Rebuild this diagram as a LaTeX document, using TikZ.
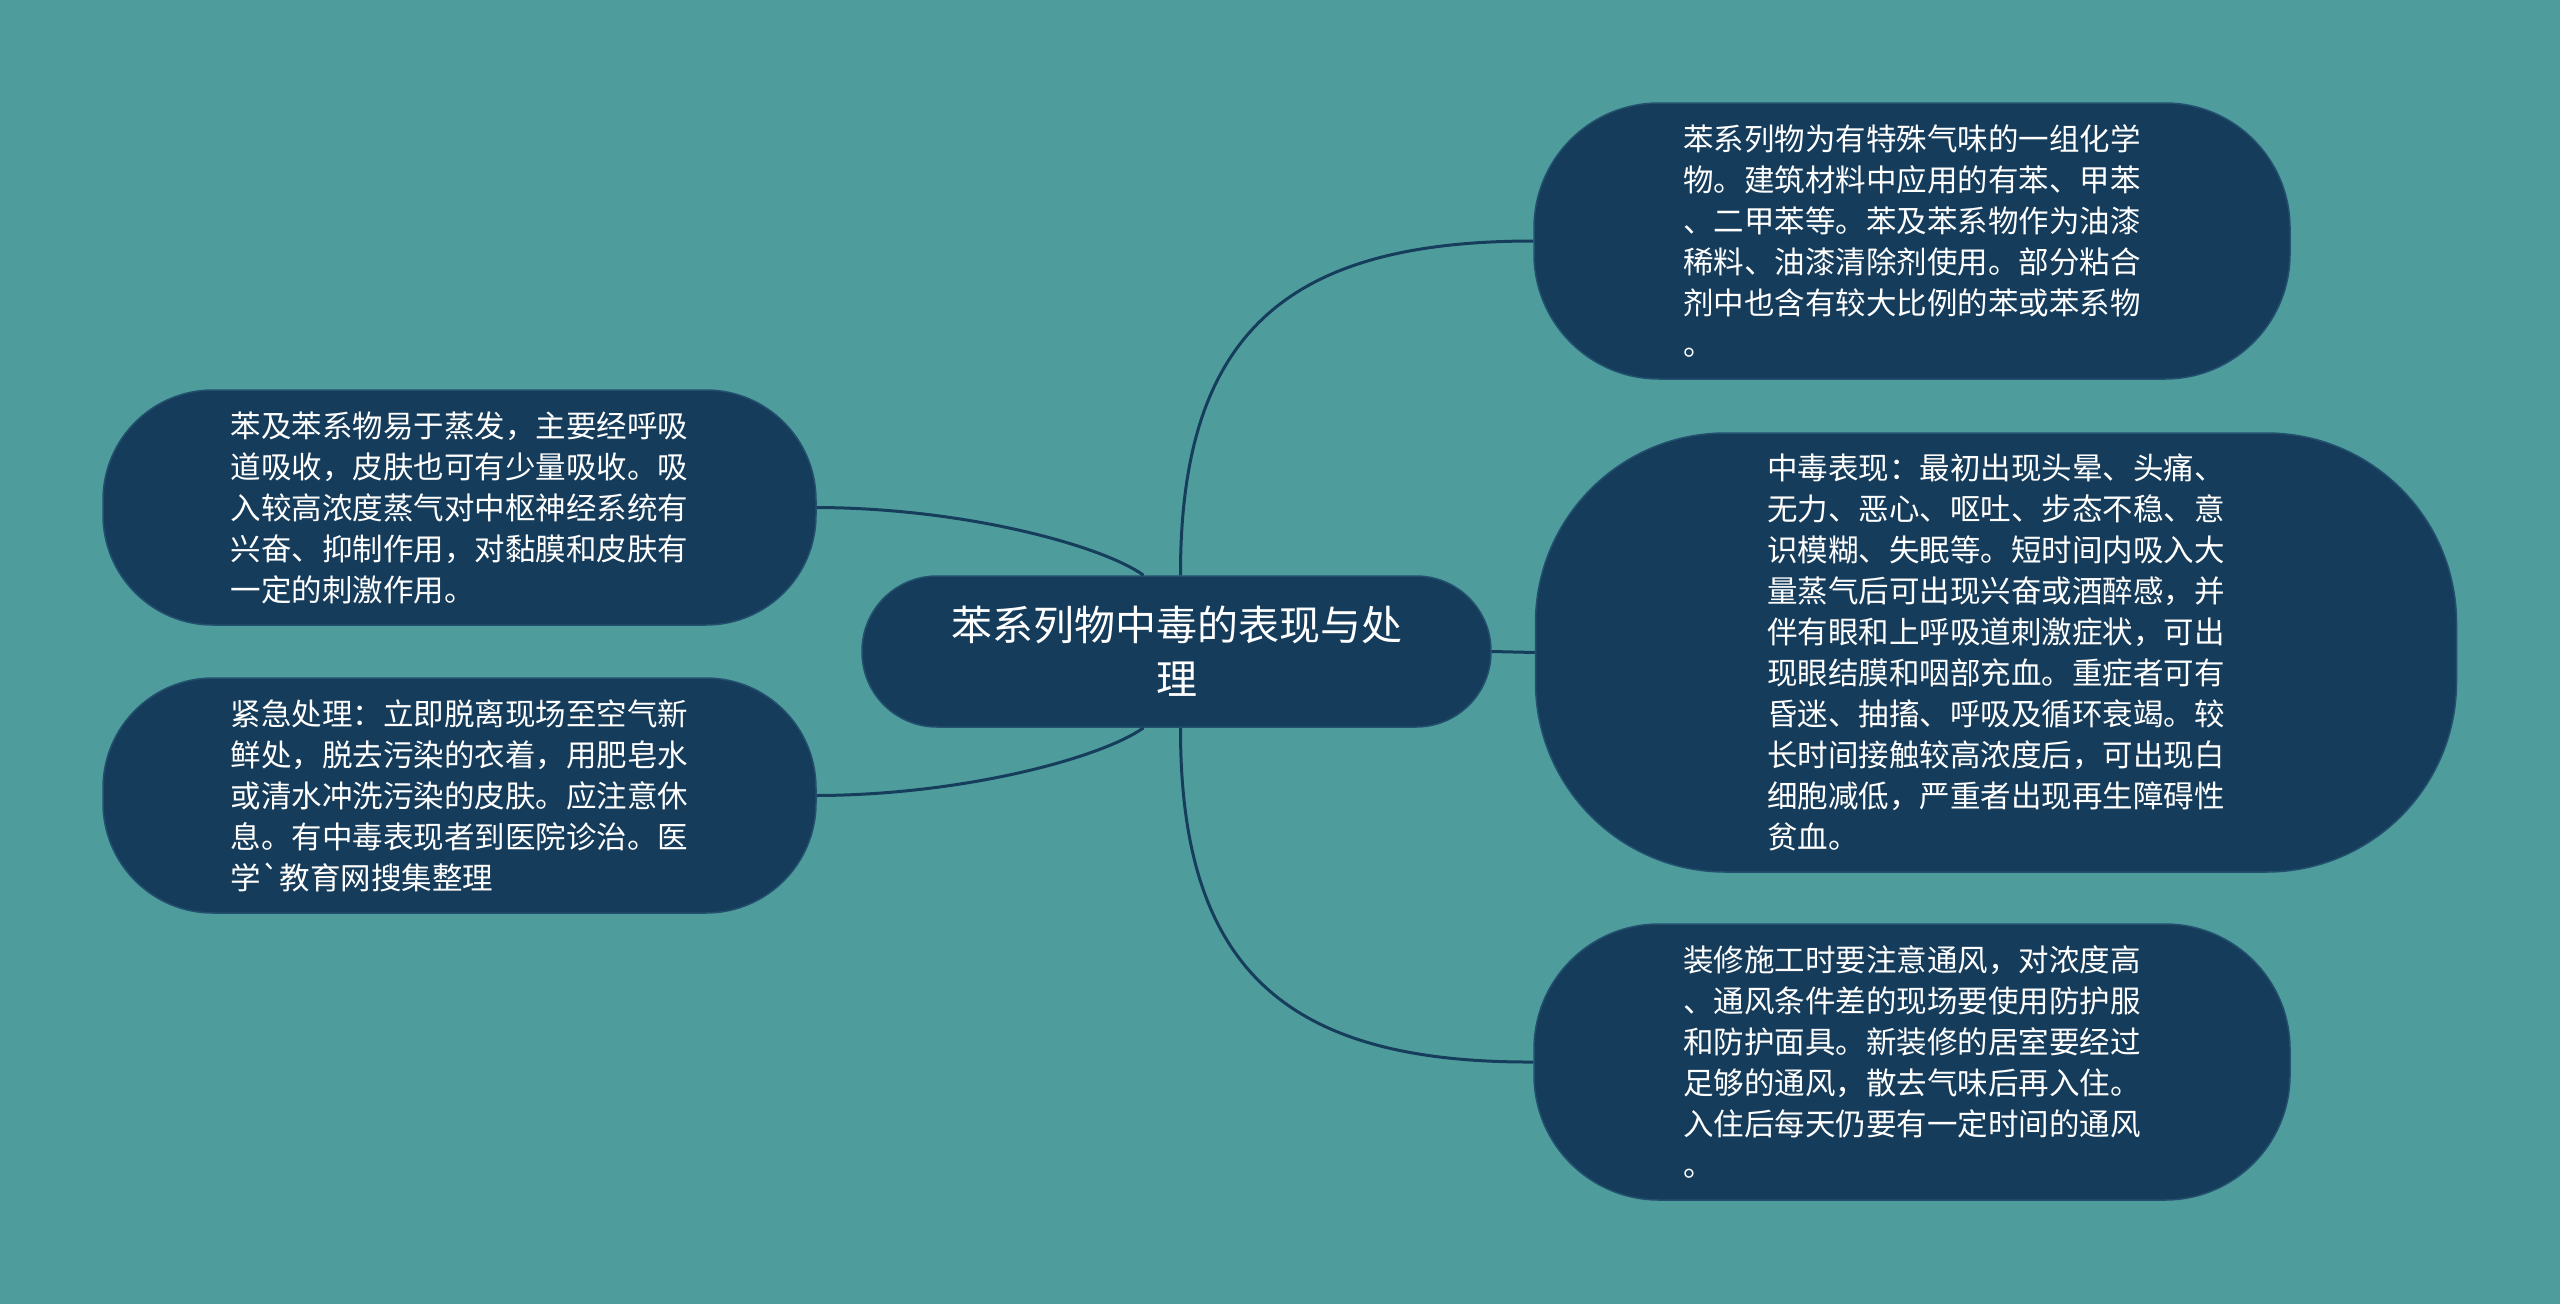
\documentclass[tikz,border=0pt]{standalone}
\usepackage{fontspec}
\newfontfamily\cjk{Noto Sans CJK SC}[Ligatures=TeXOff]
\usetikzlibrary{calc}
\definecolor{bg}{HTML}{4E9C9C}
\definecolor{nodefill}{HTML}{163C5B}
\definecolor{nodeline}{HTML}{22506E}
\definecolor{edgec}{HTML}{173D5C}
\begin{document}
\begin{tikzpicture}[x=1pt,y=-1pt,
  box/.style={fill=nodefill, draw=nodeline, line width=1.5pt, text=white, align=left,
    font=\cjk\fontsize{30.5}{41}\selectfont, inner sep=0pt},
  centerbox/.style={box, align=center, font=\cjk\fontsize{41}{54}\selectfont},
  conn/.style={draw=edgec, line width=3pt}]
\fill[bg] (0,0) rectangle (2560,1304);
\useasboundingbox (0,0) rectangle (2560,1304);

\node[centerbox, minimum width=629pt, minimum height=151pt, rounded corners=75pt] (c) at (1176.5,651.5)
  {苯系列物中毒的表现与处\\理};

\node[box, minimum width=756pt, minimum height=276pt, rounded corners=125pt] (tr) at (1912,241)
  {苯系列物为有特殊气味的一组化学\\
   物。建筑材料中应用的有苯、甲苯\\
   、二甲苯等。苯及苯系物作为油漆\\
   稀料、油漆清除剂使用。部分粘合\\
   剂中也含有较大比例的苯或苯系物\\
   。};

\node[box, minimum width=921pt, minimum height=439pt, rounded corners=190pt] (mr) at (1996,652.5)
  {中毒表现：最初出现头晕、头痛、\\
   无力、恶心、呕吐、步态不稳、意\\
   识模糊、失眠等。短时间内吸入大\\
   量蒸气后可出现兴奋或酒醉感，并\\
   伴有眼和上呼吸道刺激症状，可出\\
   现眼结膜和咽部充血。重症者可有\\
   昏迷、抽搐、呼吸及循环衰竭。较\\
   长时间接触较高浓度后，可出现白\\
   细胞减低，严重者出现再生障碍性\\
   贫血。};

\node[box, minimum width=756pt, minimum height=276pt, rounded corners=125pt] (br) at (1912,1062)
  {装修施工时要注意通风，对浓度高\\
   、通风条件差的现场要使用防护服\\
   和防护面具。新装修的居室要经过\\
   足够的通风，散去气味后再入住。\\
   入住后每天仍要有一定时间的通风\\
   。};

\node[box, minimum width=713pt, minimum height=235pt, rounded corners=110pt] (tl) at (459.5,507.5)
  {苯及苯系物易于蒸发，主要经呼吸\\
   道吸收，皮肤也可有少量吸收。吸\\
   入较高浓度蒸气对中枢神经系统有\\
   兴奋、抑制作用，对黏膜和皮肤有\\
   一定的刺激作用。};

\node[box, minimum width=713pt, minimum height=235pt, rounded corners=110pt] (bl) at (459.5,795.5)
  {紧急处理：立即脱离现场至空气新\\
   鲜处，脱去污染的衣着，用肥皂水\\
   或清水冲洗污染的皮肤。应注意休\\
   息。有中毒表现者到医院诊治。医\\
   学`教育网搜集整理};

\coordinate (ctl) at ($(c.north)+(-33,0)$);
\coordinate (ctr) at ($(c.north)+(4,0)$);
\coordinate (cbl) at ($(c.south)+(-33,0)$);
\coordinate (cbr) at ($(c.south)+(4,0)$);

\draw[conn] (ctl) .. controls (1103,546) and (966,508) .. (tl.east);
\draw[conn] (cbl) .. controls (1103,757) and (966,795) .. (bl.east);
\draw[conn] (ctr) .. controls (1180,330) and (1290,241) .. (tr.west);
\draw[conn] (cbr) .. controls (1180,973) and (1290,1063) .. (br.west);
\draw[conn] (c.east) -- (mr.west);
\end{tikzpicture}
\end{document}
